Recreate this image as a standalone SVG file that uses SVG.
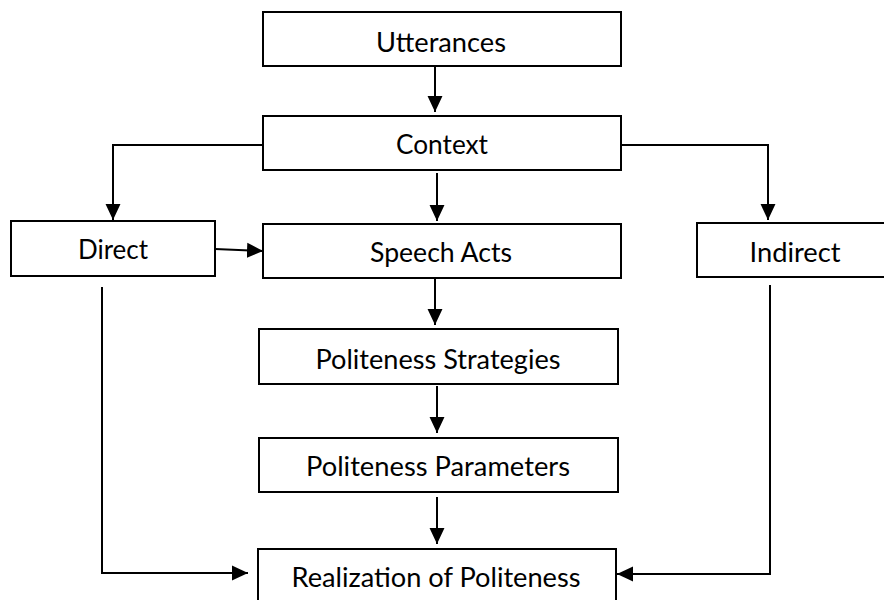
<svg xmlns="http://www.w3.org/2000/svg" width="884" height="600" viewBox="0 0 884 600">
<style>
.box{fill:#fff;stroke:#000;stroke-width:2}
.lbl{font-family:Lato,"Open Sans","Liberation Sans",sans-serif;font-size:26px;fill:#000;text-anchor:middle}
.con{fill:none;stroke:#000;stroke-width:2}
</style>
<defs>
<marker id="ah" markerUnits="userSpaceOnUse" markerWidth="16" markerHeight="16" viewBox="0 0 15 14" refX="15" refY="7" orient="auto">
<path d="M0 0 L15 7 L0 14 Z" fill="#000"/>
</marker>
</defs>
<rect width="884" height="600" fill="#fff"/>
<g id="connectors">
<path class="con" d="M435 66 V112" marker-end="url(#ah)"/>
<path class="con" d="M263 145 H113 V220" marker-end="url(#ah)"/>
<path class="con" d="M621 145 H768 V220" marker-end="url(#ah)"/>
<path class="con" d="M437 173 V221" marker-end="url(#ah)"/>
<path class="con" d="M215 249 L263 251" marker-end="url(#ah)"/>
<path class="con" d="M435 278 V325" marker-end="url(#ah)"/>
<path class="con" d="M437 386 V433" marker-end="url(#ah)"/>
<path class="con" d="M437 497 V544" marker-end="url(#ah)"/>
<path class="con" d="M102 287 V573 H248" marker-end="url(#ah)"/>
<path class="con" d="M770 285 V574 H617" marker-end="url(#ah)"/>
</g>
<g id="utterances"><rect class="box" x="263" y="12" width="358" height="54"/><text class="lbl" x="441" y="52" textLength="130" lengthAdjust="spacingAndGlyphs">Utterances</text></g>
<g id="context"><rect class="box" x="263" y="116" width="358" height="54"/><text class="lbl" x="442" y="154" textLength="92" lengthAdjust="spacingAndGlyphs">Context</text></g>
<g id="direct"><rect class="box" x="11" y="221" width="204" height="55"/><text class="lbl" x="113" y="259" textLength="70" lengthAdjust="spacingAndGlyphs">Direct</text></g>
<g id="speech-acts"><rect class="box" x="263" y="224" width="358" height="54"/><text class="lbl" x="441" y="262" textLength="142" lengthAdjust="spacingAndGlyphs">Speech Acts</text></g>
<g id="indirect"><rect class="box" x="697" y="223" width="196" height="54"/><text class="lbl" x="795" y="262" textLength="91" lengthAdjust="spacingAndGlyphs">Indirect</text></g>
<g id="politeness-strategies"><rect class="box" x="259" y="329" width="359" height="55"/><text class="lbl" x="438" y="369" textLength="245" lengthAdjust="spacingAndGlyphs">Politeness Strategies</text></g>
<g id="politeness-parameters"><rect class="box" x="259" y="438" width="359" height="54"/><text class="lbl" x="438" y="476" textLength="264" lengthAdjust="spacingAndGlyphs">Politeness Parameters</text></g>
<g id="realization"><rect class="box" x="258" y="549" width="358" height="56"/><text class="lbl" x="436" y="587" textLength="289" lengthAdjust="spacingAndGlyphs">Realization of Politeness</text></g>
</svg>
